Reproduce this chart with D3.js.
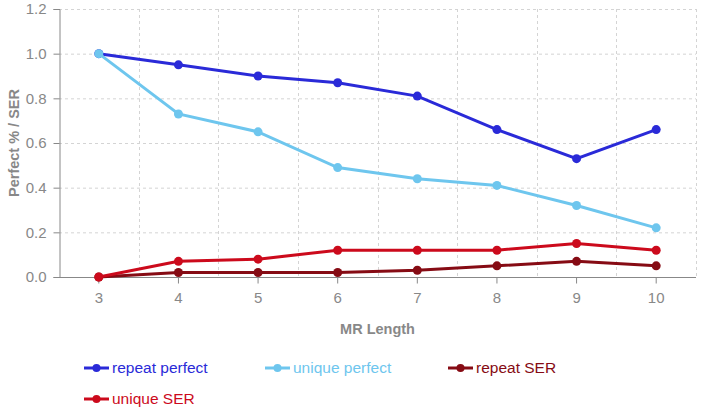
<!DOCTYPE html>
<html lang="en">
<head>
    <meta charset="UTF-8">
    <title>MR Length chart</title>
    <script src="https://d3js.org/d3.v7.min.js"></script>
    <style>
        body {
            margin: 0;
            background: #fff;
            font-family: 'Liberation Sans', Arial, sans-serif;
        }
        .grid line {
            stroke: #d4d4d4;
            stroke-dasharray: 3,3;
        }
        .axis path, .axis line {
            stroke: #888;
        }
        .axis text {
            fill: #888;
            font-family: 'Liberation Sans', Arial, sans-serif;
            font-size: 15px;
        }
        .title {
            fill: #888;
            font-size: 14.5px;
            font-weight: bold;
        }
    </style>
</head>
<body>
    <div id="chart"></div>
    <script>
        const categories = [3, 4, 5, 6, 7, 8, 9, 10];
        const repeatPerfect = [1.0, 0.95, 0.90, 0.87, 0.81, 0.66, 0.53, 0.66];
        const uniquePerfect = [1.0, 0.73, 0.65, 0.49, 0.44, 0.41, 0.32, 0.22];
        const repeatSER = [0, 0.02, 0.02, 0.02, 0.03, 0.05, 0.07, 0.05];
        const uniqueSER = [0, 0.07, 0.08, 0.12, 0.12, 0.12, 0.15, 0.12];
        const yTicks = [0, 0.2, 0.4, 0.6, 0.8, 1.0, 1.2];

        const series = [
            { name: 'repeat perfect', values: repeatPerfect, color: '#2a2ad8' },
            { name: 'unique perfect', values: uniquePerfect, color: '#6ec6ee' },
            { name: 'repeat SER', values: repeatSER, color: '#860b14' },
            { name: 'unique SER', values: uniqueSER, color: '#cc0a1c' }
        ];

        const width = 704, height = 416;
        const margin = { top: 9, right: 8, bottom: 139, left: 59 };

        const svg = d3.select('#chart').append('svg')
            .attr('width', width)
            .attr('height', height);

        const x = d3.scaleBand()
            .domain(categories)
            .range([margin.left, width - margin.right]);

        const y = d3.scaleLinear()
            .domain([0, 1.2])
            .range([height - margin.bottom, margin.top]);

        // grid
        const grid = svg.append('g').attr('class', 'grid');
        grid.selectAll('.h')
            .data(yTicks.filter(d => d > 0))
            .join('line')
            .attr('x1', margin.left)
            .attr('x2', width - margin.right)
            .attr('y1', d => y(d) + 0.5)
            .attr('y2', d => y(d) + 0.5);
        grid.selectAll('.v')
            .data(categories.map(c => x(c) + x.bandwidth()))
            .join('line')
            .attr('x1', d => Math.round(d) + 0.5)
            .attr('x2', d => Math.round(d) + 0.5)
            .attr('y1', margin.top)
            .attr('y2', height - margin.bottom);

        // axes
        svg.append('g')
            .attr('class', 'axis')
            .attr('transform', `translate(0,${height - margin.bottom + 0.5})`)
            .call(d3.axisBottom(x).tickSizeOuter(0).tickSize(6).tickPadding(9))
            .call(g => g.select('.domain').attr('d', `M${margin.left},0H${width - margin.right}`));

        svg.append('g')
            .attr('class', 'axis')
            .attr('transform', `translate(${margin.left + 0.5},0)`)
            .call(d3.axisLeft(y).tickValues(yTicks).tickFormat(d3.format('.1f')).tickSizeOuter(0).tickSize(6).tickPadding(7));

        // axis titles
        svg.append('text')
            .attr('class', 'title')
            .attr('x', (margin.left + width - margin.right) / 2)
            .attr('y', 334)
            .attr('text-anchor', 'middle')
            .text('MR Length');

        svg.append('text')
            .attr('class', 'title')
            .attr('transform', `translate(19,${(margin.top + height - margin.bottom) / 2}) rotate(-90)`)
            .attr('text-anchor', 'middle')
            .text('Perfect % / SER');

        // lines
        const line = d3.line()
            .x((d, i) => x(categories[i]) + x.bandwidth() / 2)
            .y(d => y(d));

        const layer = svg.append('g');
        series.forEach(s => {
            layer.append('path')
                .datum(s.values)
                .attr('fill', 'none')
                .attr('stroke', s.color)
                .attr('stroke-width', 3)
                .attr('d', line);
            layer.selectAll(null)
                .data(s.values)
                .join('circle')
                .attr('cx', (d, i) => x(categories[i]) + x.bandwidth() / 2)
                .attr('cy', d => y(d))
                .attr('r', 4.5)
                .attr('fill', s.color);
        });

        // legend
        const legendPos = [[84, 368], [265, 368], [448, 368], [84, 399]];
        const legend = svg.append('g');
        series.forEach((s, i) => {
            const g = legend.append('g')
                .attr('transform', `translate(${legendPos[i][0]},${legendPos[i][1]})`);
            g.append('line')
                .attr('x1', 0).attr('x2', 25)
                .attr('stroke', s.color)
                .attr('stroke-width', 3);
            g.append('circle')
                .attr('cx', 12.5)
                .attr('r', 4)
                .attr('fill', s.color);
            g.append('text')
                .attr('x', 28)
                .attr('dy', '0.35em')
                .attr('fill', s.color)
                .style('font-size', '15.5px')
                .text(s.name);
        });
    </script>
</body>
</html>
